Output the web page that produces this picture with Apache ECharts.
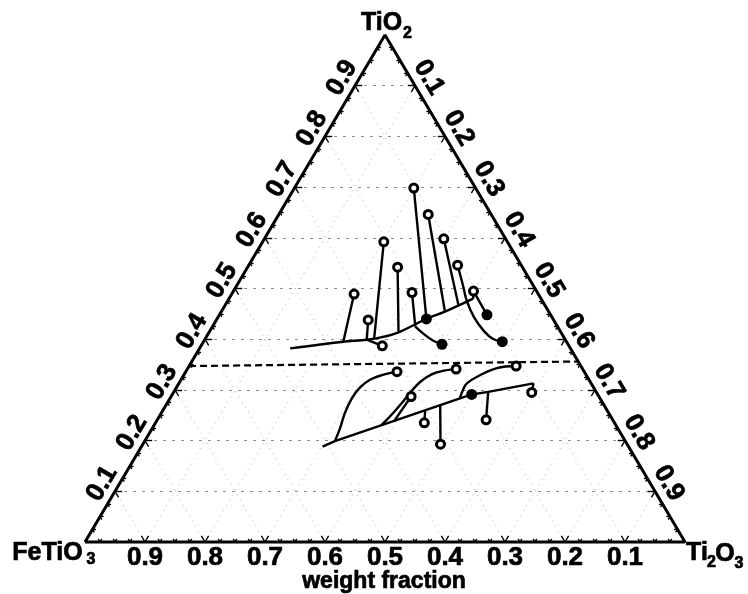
<!DOCTYPE html>
<html><head><meta charset="utf-8">
<script src="https://cdn.jsdelivr.net/npm/echarts@6/dist/echarts.min.js"></script>
<style>html,body{margin:0;padding:0;background:#fff}#c{width:748px;height:594px}</style>
</head><body><div id="c"></div>
<script>
// ===== data: compositions as [FeTiO3, TiO2, Ti2O3] weight fractions =====
const tickValues = [0.1, 0.2, 0.3, 0.4, 0.5, 0.6, 0.7, 0.8, 0.9];
const tickLabels = ['0.1', '0.2', '0.3', '0.4', '0.5', '0.6', '0.7', '0.8', '0.9'];
const minorStep = 0.025;
const axisTitle = 'weight fraction';

const upperBoundary = [
  [0.467, 0.382, 0.151], [0.372, 0.395, 0.233], [0.331, 0.399, 0.270], [0.303, 0.404, 0.293],
  [0.272, 0.413, 0.315], [0.211, 0.440, 0.349], [0.169, 0.456, 0.375], [0.113, 0.480, 0.407]
];
const upperTieLines = [
  [[0.372, 0.395, 0.233], [0.307, 0.489, 0.204]],
  [[0.331, 0.399, 0.270], [0.309, 0.438, 0.253]],
  [[0.317, 0.402, 0.281], [0.206, 0.592, 0.202]],
  [[0.270, 0.415, 0.315], [0.208, 0.542, 0.250]],
  [[0.237, 0.425, 0.338], [0.209, 0.492, 0.299]],
  [[0.211, 0.440, 0.349], [0.103, 0.698, 0.199]],
  [[0.173, 0.454, 0.373], [0.105, 0.646, 0.249]],
  [[0.144, 0.467, 0.389], [0.103, 0.598, 0.299]],
  [[0.113, 0.480, 0.407], [0.105, 0.495, 0.400]],
  [[0.105, 0.495, 0.400], [0.107, 0.448, 0.446]],
  [[0.331, 0.399, 0.270], [0.311, 0.387, 0.302]]
];
const upperCurveA = [[0.237, 0.425, 0.338], [0.229, 0.408, 0.363], [0.220, 0.397, 0.382], [0.211, 0.390, 0.400]];
const upperCurveB = [[0.106, 0.546, 0.348], [0.117, 0.506, 0.377], [0.126, 0.475, 0.399], [0.130, 0.443, 0.427],
  [0.127, 0.416, 0.457], [0.119, 0.401, 0.479], [0.107, 0.395, 0.498]];

const lowerBoundary = [[0.510, 0.188, 0.302], [0.484, 0.199, 0.317], [0.210, 0.291, 0.499], [0.180, 0.296, 0.524], [0.096, 0.313, 0.591]];
const lowerTieLines = [
  [[0.303, 0.260, 0.437], [0.317, 0.235, 0.448]],
  [[0.272, 0.270, 0.457], [0.311, 0.193, 0.496]],
  [[0.180, 0.296, 0.524], [0.211, 0.241, 0.548]],
  [[0.365, 0.239, 0.396], [0.314, 0.287, 0.400]],
  [[0.096, 0.313, 0.591], [0.108, 0.295, 0.597]]
];
const lowerCurveA = [[0.484, 0.199, 0.317], [0.463, 0.224, 0.313], [0.440, 0.254, 0.306], [0.414, 0.283, 0.303],
  [0.389, 0.305, 0.306], [0.365, 0.320, 0.315], [0.341, 0.329, 0.330], [0.313, 0.336, 0.352]];
const lowerCurveB = [[0.390, 0.231, 0.379], [0.362, 0.253, 0.386], [0.335, 0.274, 0.391], [0.309, 0.296, 0.395],
  [0.284, 0.316, 0.401], [0.256, 0.331, 0.413], [0.233, 0.338, 0.429], [0.211, 0.341, 0.448]];
const lowerCurveC = [[0.233, 0.283, 0.483], [0.220, 0.300, 0.480], [0.207, 0.313, 0.480], [0.177, 0.329, 0.494],
  [0.143, 0.343, 0.515], [0.108, 0.347, 0.545]];

const dashedDivide = [[0.653, 0.347, 0.000], [0.000, 0.356, 0.644]];

const openPoints = [
  [0.307, 0.489, 0.204], [0.309, 0.438, 0.253], [0.206, 0.592, 0.202], [0.208, 0.542, 0.250], [0.209, 0.492, 0.299],
  [0.103, 0.698, 0.199], [0.105, 0.646, 0.249], [0.103, 0.598, 0.299], [0.106, 0.546, 0.348], [0.105, 0.495, 0.400],
  [0.311, 0.387, 0.302],
  [0.313, 0.336, 0.352], [0.314, 0.287, 0.400], [0.211, 0.341, 0.448], [0.108, 0.347, 0.545],
  [0.317, 0.235, 0.448], [0.311, 0.193, 0.496], [0.211, 0.241, 0.548], [0.108, 0.295, 0.597]
];
const filledPoints = [[0.211, 0.440, 0.349], [0.211, 0.390, 0.400], [0.107, 0.448, 0.446], [0.107, 0.395, 0.498], [0.210, 0.291, 0.499]];

// ===== layout =====
const GRID = { left: 85, top: 35, width: 600, height: 507 };
const FONT = '"Liberation Sans", Arial, sans-serif';
const INK = '#000';
const toXY = c => [c[1] / 2 + c[2], c[1]];
const shift = (xy, dx, dy) => [xy[0] + dx / GRID.width, xy[1] - dy / GRID.height];
const sideLen = Math.hypot(GRID.width / 2, GRID.height);
const nL = [-GRID.height / sideLen, -(GRID.width / 2) / sideLen];
const nR = [GRID.height / sideLen, -(GRID.width / 2) / sideLen];
const ang = Math.atan2(GRID.height, GRID.width / 2) * 180 / Math.PI;

const seg = (a, b) => ({ coords: [toXY(a), toXY(b)] });
const gridH = tickValues.map(t => seg([1 - t, t, 0], [0, t, 1 - t]));
const gridS = tickValues.map(f => seg([f, 0, 1 - f], [f, 1 - f, 0]))
  .concat(tickValues.map(r => seg([1 - r, 0, r], [0, 1 - r, r])));

function arms(v, L) {
  return [
    seg([v, 0, 1 - v], [v, L, 1 - v - L]), seg([v, 0, 1 - v], [v - L, L, 1 - v]),
    seg([1 - v, v, 0], [1 - v - L, v, L]), seg([1 - v, v, 0], [1 - v, v - L, L]),
    seg([0, 1 - v, v], [L, 1 - v, v - L]), seg([0, 1 - v, v], [L, 1 - v - L, v])
  ];
}
let ticks = [];
const nMinor = Math.round(1 / minorStep);
for (let i = 1; i < nMinor; i++) {
  const v = i * minorStep;
  ticks = ticks.concat(arms(v, i % 4 === 0 ? 0.012 : 0.006));
}

const labelData = [];
tickValues.forEach((v, i) => {
  labelData.push({ value: shift(toXY([v, 0, 1 - v]), 0, 16), label: { formatter: tickLabels[i] } });
  labelData.push({ value: shift(toXY([1 - v, v, 0]), nL[0] * 15, nL[1] * 15), label: { formatter: tickLabels[i], rotate: ang } });
  labelData.push({ value: shift(toXY([0, 1 - v, v]), nR[0] * 16, nR[1] * 16), label: { formatter: tickLabels[i], rotate: -ang } });
});

const big = 25, small = 16;
const vT = toXY([0, 1, 0]), vL = toXY([1, 0, 0]), vR = toXY([0, 0, 1]);
const vertexPieces = [
  [vT, -3.5, -11.5, 'TiO', big], [vT, 22.5, -1.5, '2', small],
  [vL, -37.5, 11.5, 'FeTiO', big], [vL, 6, 18, '3', small],
  [vR, 12, 11.5, 'Ti', big], [vR, 26.5, 20.5, '2', small], [vR, 40, 12, 'O', big], [vR, 54, 21.5, '3', small]
].map(p => ({ value: shift(p[0], p[1], p[2]), label: { formatter: p[3], fontSize: p[4] } }));
vertexPieces.push({ value: shift(toXY([0.5, 0, 0.5]), -1, 40), label: { formatter: axisTitle, fontSize: 23 } });

const lineSer = (pts, opt) => Object.assign({
  type: 'line', data: pts.map(toXY), symbol: 'none', clip: false, silent: true, z: 4,
  lineStyle: { color: INK, width: 2.4 }
}, opt || {});
const segSer = (data, style, z) => ({
  type: 'lines', coordinateSystem: 'cartesian2d', data: data, silent: true, z: z, clip: false,
  lineStyle: Object.assign({ opacity: 1, curveness: 0 }, style)
});
const txt = { show: true, position: 'inside', align: 'center', verticalAlign: 'middle', color: INK, opacity: 1,
  fontFamily: FONT, fontWeight: 'bold', fontSize: 26, textBorderColor: INK, textBorderWidth: 0.7 };

const chart = echarts.init(document.getElementById('c'), null, { renderer: 'canvas' });
chart.setOption({
  animation: false,
  backgroundColor: '#fff',
  grid: GRID,
  xAxis: { type: 'value', min: 0, max: 1, show: false },
  yAxis: { type: 'value', min: 0, max: 1, show: false },
  series: [
    segSer(gridS, { color: '#b0b0b0', width: 1, type: [1, 5] }, 1),
    segSer(gridH, { color: '#8c8c8c', width: 1, type: [3, 6] }, 1),
    segSer(ticks, { color: INK, width: 1.4 }, 3),
    lineSer([[1, 0, 0], [0, 1, 0], [0, 0, 1], [1, 0, 0]], { lineStyle: { color: INK, width: 3 }, z: 3 }),
    lineSer(dashedDivide, { lineStyle: { color: INK, width: 2.2, type: [7, 4] } }),
    lineSer(upperBoundary, { smooth: 0.3 }),
    segSer(upperTieLines.map(s => seg(s[0], s[1])), { color: INK, width: 2.4 }, 4),
    lineSer(upperCurveA, { smooth: 0.4 }),
    lineSer(upperCurveB, { smooth: 0.4 }),
    lineSer(lowerBoundary, {}),
    segSer(lowerTieLines.map(s => seg(s[0], s[1])), { color: INK, width: 2.4 }, 4),
    lineSer(lowerCurveA, { smooth: 0.4 }),
    lineSer(lowerCurveB, { smooth: 0.4 }),
    lineSer(lowerCurveC, { smooth: 0.4 }),
    { type: 'scatter', data: openPoints.map(toXY), symbol: 'circle', symbolSize: 8, clip: false, silent: true, z: 6,
      itemStyle: { color: '#fff', borderColor: INK, borderWidth: 3, opacity: 1 } },
    { type: 'scatter', data: filledPoints.map(toXY), symbol: 'circle', symbolSize: 11, clip: false, silent: true, z: 6,
      itemStyle: { color: INK, opacity: 1 } },
    { type: 'scatter', data: labelData, symbolSize: 0, clip: false, silent: true, z: 7, itemStyle: { opacity: 1 }, label: txt },
    { type: 'scatter', data: vertexPieces, symbolSize: 0, clip: false, silent: true, z: 7, itemStyle: { opacity: 1 }, label: txt }
  ]
});
</script></body></html>
